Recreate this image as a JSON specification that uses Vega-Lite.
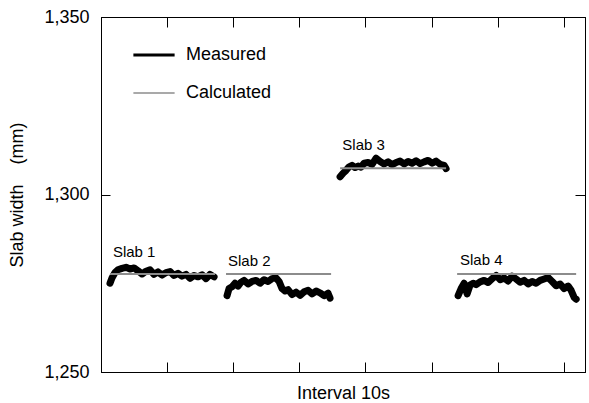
{
  "$schema": "https://vega.github.io/schema/vega-lite/v6.json",
  "width": 484,
  "height": 355,
  "autosize": {"type": "none"},
  "padding": {"left": 101, "top": 17, "right": 4, "bottom": 31},
  "background": "white",
  "config": {
    "font": "Liberation Sans",
    "view": {"stroke": "black", "strokeWidth": 1},
    "axis": {
      "domainColor": "black",
      "tickColor": "black",
      "labelColor": "black",
      "titleColor": "black",
      "labelFont": "Liberation Sans",
      "titleFont": "Liberation Sans",
      "labelFontSize": 18,
      "titleFontSize": 18,
      "titleFontWeight": "normal",
      "grid": false
    },
    "legend": {
      "labelFont": "Liberation Sans",
      "labelFontSize": 18,
      "labelColor": "black"
    }
  },
  "datasets": {
    "measured": [
      {"slab": "Slab 1", "series": "Measured", "t": 1.36, "width": 1275.0},
      {"slab": "Slab 1", "series": "Measured", "t": 1.66, "width": 1276.5},
      {"slab": "Slab 1", "series": "Measured", "t": 2.12, "width": 1278.0},
      {"slab": "Slab 1", "series": "Measured", "t": 2.57, "width": 1278.8},
      {"slab": "Slab 1", "series": "Measured", "t": 3.18, "width": 1279.2},
      {"slab": "Slab 1", "series": "Measured", "t": 3.78, "width": 1279.5},
      {"slab": "Slab 1", "series": "Measured", "t": 4.39, "width": 1279.0},
      {"slab": "Slab 1", "series": "Measured", "t": 4.99, "width": 1279.3},
      {"slab": "Slab 1", "series": "Measured", "t": 5.60, "width": 1278.5},
      {"slab": "Slab 1", "series": "Measured", "t": 6.20, "width": 1277.6},
      {"slab": "Slab 1", "series": "Measured", "t": 6.81, "width": 1278.4},
      {"slab": "Slab 1", "series": "Measured", "t": 7.41, "width": 1278.8},
      {"slab": "Slab 1", "series": "Measured", "t": 8.02, "width": 1277.5},
      {"slab": "Slab 1", "series": "Measured", "t": 8.62, "width": 1278.2},
      {"slab": "Slab 1", "series": "Measured", "t": 9.23, "width": 1277.3},
      {"slab": "Slab 1", "series": "Measured", "t": 9.83, "width": 1278.0},
      {"slab": "Slab 1", "series": "Measured", "t": 10.44, "width": 1278.3},
      {"slab": "Slab 1", "series": "Measured", "t": 11.04, "width": 1277.2},
      {"slab": "Slab 1", "series": "Measured", "t": 11.65, "width": 1277.8},
      {"slab": "Slab 1", "series": "Measured", "t": 12.25, "width": 1277.0},
      {"slab": "Slab 1", "series": "Measured", "t": 12.86, "width": 1277.5},
      {"slab": "Slab 1", "series": "Measured", "t": 13.46, "width": 1276.4},
      {"slab": "Slab 1", "series": "Measured", "t": 14.07, "width": 1277.2},
      {"slab": "Slab 1", "series": "Measured", "t": 14.68, "width": 1276.8},
      {"slab": "Slab 1", "series": "Measured", "t": 15.28, "width": 1277.4},
      {"slab": "Slab 1", "series": "Measured", "t": 15.89, "width": 1276.3},
      {"slab": "Slab 1", "series": "Measured", "t": 16.49, "width": 1277.5},
      {"slab": "Slab 1", "series": "Measured", "t": 17.10, "width": 1276.8},
      {"slab": "Slab 2", "series": "Measured", "t": 19.06, "width": 1271.5},
      {"slab": "Slab 2", "series": "Measured", "t": 19.37, "width": 1273.5},
      {"slab": "Slab 2", "series": "Measured", "t": 19.82, "width": 1274.0},
      {"slab": "Slab 2", "series": "Measured", "t": 20.27, "width": 1275.0},
      {"slab": "Slab 2", "series": "Measured", "t": 20.73, "width": 1274.2},
      {"slab": "Slab 2", "series": "Measured", "t": 21.18, "width": 1275.3},
      {"slab": "Slab 2", "series": "Measured", "t": 21.63, "width": 1275.8},
      {"slab": "Slab 2", "series": "Measured", "t": 22.24, "width": 1274.8},
      {"slab": "Slab 2", "series": "Measured", "t": 22.84, "width": 1275.5},
      {"slab": "Slab 2", "series": "Measured", "t": 23.45, "width": 1275.8},
      {"slab": "Slab 2", "series": "Measured", "t": 24.05, "width": 1275.0},
      {"slab": "Slab 2", "series": "Measured", "t": 24.66, "width": 1276.0},
      {"slab": "Slab 2", "series": "Measured", "t": 25.27, "width": 1275.5},
      {"slab": "Slab 2", "series": "Measured", "t": 25.87, "width": 1276.3},
      {"slab": "Slab 2", "series": "Measured", "t": 26.48, "width": 1276.5},
      {"slab": "Slab 2", "series": "Measured", "t": 26.93, "width": 1275.5},
      {"slab": "Slab 2", "series": "Measured", "t": 27.38, "width": 1273.5},
      {"slab": "Slab 2", "series": "Measured", "t": 27.84, "width": 1272.8},
      {"slab": "Slab 2", "series": "Measured", "t": 28.29, "width": 1273.2},
      {"slab": "Slab 2", "series": "Measured", "t": 28.90, "width": 1271.8},
      {"slab": "Slab 2", "series": "Measured", "t": 29.50, "width": 1272.5},
      {"slab": "Slab 2", "series": "Measured", "t": 30.11, "width": 1271.6},
      {"slab": "Slab 2", "series": "Measured", "t": 30.71, "width": 1272.6},
      {"slab": "Slab 2", "series": "Measured", "t": 31.32, "width": 1273.0},
      {"slab": "Slab 2", "series": "Measured", "t": 31.92, "width": 1272.0},
      {"slab": "Slab 2", "series": "Measured", "t": 32.53, "width": 1272.8},
      {"slab": "Slab 2", "series": "Measured", "t": 33.13, "width": 1272.3},
      {"slab": "Slab 2", "series": "Measured", "t": 33.74, "width": 1271.5},
      {"slab": "Slab 2", "series": "Measured", "t": 34.34, "width": 1272.2},
      {"slab": "Slab 2", "series": "Measured", "t": 34.64, "width": 1270.8},
      {"slab": "Slab 3", "series": "Measured", "t": 36.16, "width": 1305.0},
      {"slab": "Slab 3", "series": "Measured", "t": 36.61, "width": 1306.0},
      {"slab": "Slab 3", "series": "Measured", "t": 37.07, "width": 1306.8},
      {"slab": "Slab 3", "series": "Measured", "t": 37.52, "width": 1307.8},
      {"slab": "Slab 3", "series": "Measured", "t": 37.97, "width": 1308.2},
      {"slab": "Slab 3", "series": "Measured", "t": 38.43, "width": 1307.6},
      {"slab": "Slab 3", "series": "Measured", "t": 38.88, "width": 1308.0},
      {"slab": "Slab 3", "series": "Measured", "t": 39.33, "width": 1307.7},
      {"slab": "Slab 3", "series": "Measured", "t": 39.79, "width": 1308.8},
      {"slab": "Slab 3", "series": "Measured", "t": 40.39, "width": 1309.0},
      {"slab": "Slab 3", "series": "Measured", "t": 41.00, "width": 1308.5},
      {"slab": "Slab 3", "series": "Measured", "t": 41.60, "width": 1310.2},
      {"slab": "Slab 3", "series": "Measured", "t": 42.21, "width": 1309.3},
      {"slab": "Slab 3", "series": "Measured", "t": 42.81, "width": 1308.6},
      {"slab": "Slab 3", "series": "Measured", "t": 43.42, "width": 1309.2},
      {"slab": "Slab 3", "series": "Measured", "t": 44.02, "width": 1308.4},
      {"slab": "Slab 3", "series": "Measured", "t": 44.63, "width": 1309.0},
      {"slab": "Slab 3", "series": "Measured", "t": 45.23, "width": 1309.4},
      {"slab": "Slab 3", "series": "Measured", "t": 45.84, "width": 1308.6},
      {"slab": "Slab 3", "series": "Measured", "t": 46.44, "width": 1309.3},
      {"slab": "Slab 3", "series": "Measured", "t": 47.05, "width": 1308.8},
      {"slab": "Slab 3", "series": "Measured", "t": 47.66, "width": 1309.5},
      {"slab": "Slab 3", "series": "Measured", "t": 48.26, "width": 1308.7},
      {"slab": "Slab 3", "series": "Measured", "t": 48.87, "width": 1309.2},
      {"slab": "Slab 3", "series": "Measured", "t": 49.47, "width": 1309.6},
      {"slab": "Slab 3", "series": "Measured", "t": 50.08, "width": 1308.8},
      {"slab": "Slab 3", "series": "Measured", "t": 50.68, "width": 1309.4},
      {"slab": "Slab 3", "series": "Measured", "t": 51.29, "width": 1308.5},
      {"slab": "Slab 3", "series": "Measured", "t": 51.89, "width": 1308.2},
      {"slab": "Slab 3", "series": "Measured", "t": 52.19, "width": 1307.3},
      {"slab": "Slab 4", "series": "Measured", "t": 54.01, "width": 1271.5},
      {"slab": "Slab 4", "series": "Measured", "t": 54.46, "width": 1273.5},
      {"slab": "Slab 4", "series": "Measured", "t": 54.92, "width": 1275.0},
      {"slab": "Slab 4", "series": "Measured", "t": 55.37, "width": 1272.0},
      {"slab": "Slab 4", "series": "Measured", "t": 55.82, "width": 1274.5},
      {"slab": "Slab 4", "series": "Measured", "t": 56.28, "width": 1275.0},
      {"slab": "Slab 4", "series": "Measured", "t": 56.73, "width": 1274.6},
      {"slab": "Slab 4", "series": "Measured", "t": 57.34, "width": 1275.4},
      {"slab": "Slab 4", "series": "Measured", "t": 57.94, "width": 1275.8},
      {"slab": "Slab 4", "series": "Measured", "t": 58.55, "width": 1275.2},
      {"slab": "Slab 4", "series": "Measured", "t": 59.15, "width": 1276.3},
      {"slab": "Slab 4", "series": "Measured", "t": 59.76, "width": 1277.2},
      {"slab": "Slab 4", "series": "Measured", "t": 60.36, "width": 1276.0},
      {"slab": "Slab 4", "series": "Measured", "t": 60.97, "width": 1276.5},
      {"slab": "Slab 4", "series": "Measured", "t": 61.57, "width": 1275.6},
      {"slab": "Slab 4", "series": "Measured", "t": 62.18, "width": 1277.0},
      {"slab": "Slab 4", "series": "Measured", "t": 62.78, "width": 1276.2},
      {"slab": "Slab 4", "series": "Measured", "t": 63.39, "width": 1275.3},
      {"slab": "Slab 4", "series": "Measured", "t": 63.99, "width": 1275.8},
      {"slab": "Slab 4", "series": "Measured", "t": 64.60, "width": 1274.8},
      {"slab": "Slab 4", "series": "Measured", "t": 65.20, "width": 1275.5},
      {"slab": "Slab 4", "series": "Measured", "t": 65.81, "width": 1275.0},
      {"slab": "Slab 4", "series": "Measured", "t": 66.41, "width": 1275.8},
      {"slab": "Slab 4", "series": "Measured", "t": 67.02, "width": 1276.2},
      {"slab": "Slab 4", "series": "Measured", "t": 67.62, "width": 1276.6},
      {"slab": "Slab 4", "series": "Measured", "t": 68.23, "width": 1275.5},
      {"slab": "Slab 4", "series": "Measured", "t": 68.84, "width": 1274.3},
      {"slab": "Slab 4", "series": "Measured", "t": 69.44, "width": 1274.8},
      {"slab": "Slab 4", "series": "Measured", "t": 70.05, "width": 1273.5},
      {"slab": "Slab 4", "series": "Measured", "t": 70.65, "width": 1274.2},
      {"slab": "Slab 4", "series": "Measured", "t": 71.10, "width": 1273.0},
      {"slab": "Slab 4", "series": "Measured", "t": 71.56, "width": 1271.0},
      {"slab": "Slab 4", "series": "Measured", "t": 71.86, "width": 1270.5}
    ],
    "calculated": [
      {"slab": "Slab 1", "series": "Calculated", "t": 1.36, "width": 1277.6},
      {"slab": "Slab 1", "series": "Calculated", "t": 17.25, "width": 1277.6},
      {"slab": "Slab 2", "series": "Calculated", "t": 18.91, "width": 1277.6},
      {"slab": "Slab 2", "series": "Calculated", "t": 34.80, "width": 1277.6},
      {"slab": "Slab 3", "series": "Calculated", "t": 36.16, "width": 1307.4},
      {"slab": "Slab 3", "series": "Calculated", "t": 52.19, "width": 1307.4},
      {"slab": "Slab 4", "series": "Calculated", "t": 53.86, "width": 1277.6},
      {"slab": "Slab 4", "series": "Calculated", "t": 71.86, "width": 1277.6}
    ],
    "labels": [
      {"label": "Slab 1", "t": 1.8, "width": 1283.8},
      {"label": "Slab 2", "t": 19.2, "width": 1281.3},
      {"label": "Slab 3", "t": 36.5, "width": 1314.0},
      {"label": "Slab 4", "t": 54.3, "width": 1281.5}
    ]
  },
  "resolve": {"axis": {"x": "independent", "y": "independent"}},
  "layer": [
    {
      "data": {"name": "measured"},
      "mark": {"type": "line", "strokeWidth": 7, "strokeJoin": "round", "strokeCap": "round"},
      "encoding": {
        "x": {
          "field": "t", "type": "quantitative",
          "scale": {"domain": [0, 73.2], "nice": false, "zero": false},
          "axis": {"orient": "bottom", "values": [10, 20, 30, 40, 50, 60, 70], "labels": false, "tickSize": -10, "title": "Interval 10s", "titlePadding": 12}
        },
        "y": {
          "field": "width", "type": "quantitative",
          "scale": {"domain": [1250, 1350], "nice": false, "zero": false},
          "axis": {"orient": "left", "values": [1250, 1300, 1350], "format": ",.0f", "tickSize": -9, "labelPadding": 21, "title": "Slab width\u00a0\u00a0\u00a0\u00a0(mm)", "titlePadding": 17}
        },
        "detail": {"field": "slab"},
        "color": {
          "field": "series", "type": "nominal",
          "scale": {"domain": ["Measured", "Calculated"], "range": ["#000000", "#8c8c8c"]},
          "legend": {
            "title": null,
            "orient": "none",
            "legendX": 44,
            "legendY": 29,
            "symbolType": "stroke",
            "symbolSize": 1700,
            "symbolStrokeWidth": 2,
            "labelOffset": 23,
            "rowPadding": 20,
            "encode": {"symbols": {"update": {"strokeWidth": {"signal": "datum.value === 'Measured' ? 3 : 1.5"}}}}
          }
        }
      }
    },
    {
      "data": {"name": "calculated"},
      "mark": {"type": "line", "strokeWidth": 2},
      "encoding": {
        "x": {
          "field": "t", "type": "quantitative",
          "axis": {"orient": "top", "values": [10, 20, 30, 40, 50, 60, 70], "labels": false, "tickSize": -10, "title": null}
        },
        "y": {
          "field": "width", "type": "quantitative",
          "axis": {"orient": "right", "values": [1250, 1300, 1350], "labels": false, "tickSize": -10, "title": null}
        },
        "detail": {"field": "slab"},
        "color": {"field": "series", "type": "nominal"}
      }
    },
    {
      "data": {"name": "labels"},
      "mark": {"type": "text", "align": "left", "baseline": "middle", "fontSize": 15, "font": "Liberation Sans", "color": "black"},
      "encoding": {
        "x": {"field": "t", "type": "quantitative", "axis": null},
        "y": {"field": "width", "type": "quantitative", "axis": null},
        "text": {"field": "label"}
      }
    }
  ]
}
